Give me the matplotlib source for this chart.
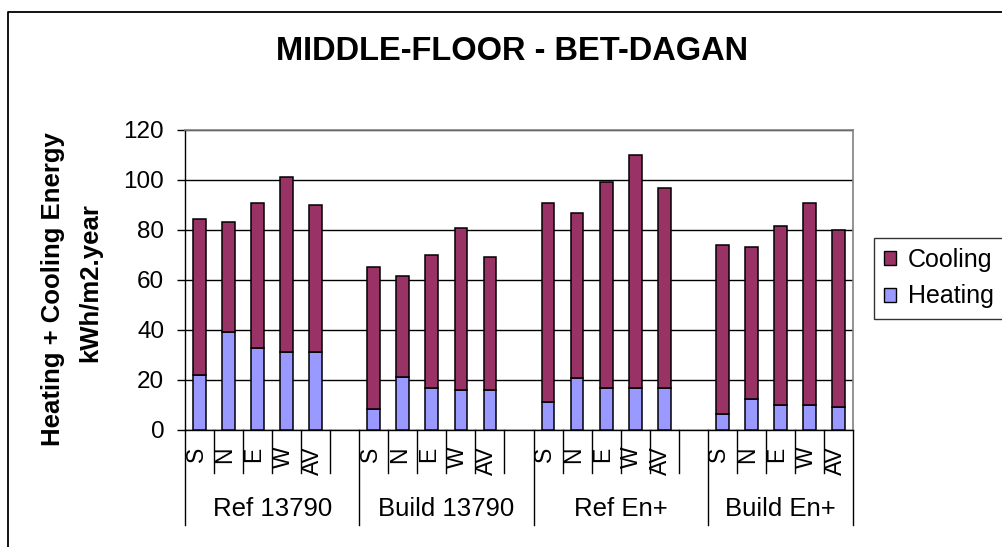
import matplotlib
matplotlib.use('Agg')
import matplotlib.pyplot as plt
from matplotlib.lines import Line2D
from matplotlib.patches import Patch

plt.rcParams['font.family'] = ['Liberation Sans', 'DejaVu Sans']

# ---- data
groups = ['Ref 13790', 'Build 13790', 'Ref En+', 'Build En+']
orients = ['S', 'N', 'E', 'W', 'AV']

heating_ref13790 = [22.0, 39.2, 32.8, 31.3, 31.3]
heating_build13790 = [8.4, 21.3, 16.9, 16.0, 16.0]
heating_refen = [11.3, 20.7, 16.9, 16.9, 16.9]
heating_builden = [6.3, 12.3, 10.0, 10.0, 9.3]

cooling_ref13790 = [62.5, 43.9, 58.0, 70.0, 58.7]
cooling_build13790 = [56.9, 40.3, 53.1, 64.8, 53.3]
cooling_refen = [79.4, 66.2, 82.4, 93.1, 80.0]
cooling_builden = [67.6, 60.9, 71.6, 80.7, 70.7]

heating = [heating_ref13790, heating_build13790, heating_refen, heating_builden]
cooling = [cooling_ref13790, cooling_build13790, cooling_refen, cooling_builden]

HEAT_C = '#9999FF'
COOL_C = '#993366'

W, H = 1003, 547
fig = plt.figure(figsize=(W / 100, H / 100), dpi=100)
ax = fig.add_axes([185 / W, 1 - 430 / H, 668 / W, 300 / H])

slot = 6  # 5 bars + 1 empty slot per group
for g in range(len(groups)):
    pos = [g * slot + i for i in range(len(orients))]
    ax.bar(pos, heating[g], width=0.44, color=HEAT_C, edgecolor='black', lw=1.1, zorder=3)
    ax.bar(pos, cooling[g], width=0.44, bottom=heating[g], color=COOL_C,
           edgecolor='black', lw=1.1, zorder=3)

n_slots = slot * len(groups) - 1
ax.set_xlim(-0.5, n_slots - 0.5)
ax.set_ylim(0, 120)
ax.set_yticks(range(0, 121, 20))
ax.set_xticks([])
ax.yaxis.grid(True, color='black', lw=1)
ax.set_axisbelow(True)
ax.tick_params(axis='y', direction='out', length=6, width=1, pad=9,
               labelsize=17.5, colors='black')
for s in ['top', 'right']:
    ax.spines[s].set_color('#808080')
    ax.spines[s].set_linewidth(1.2)
for s in ['left', 'bottom']:
    ax.spines[s].set_color('black')
    ax.spines[s].set_linewidth(1)

# multi-level category axis
xt = ax.get_xaxis_transform()
for k in range(n_slots + 1):
    big = (k % slot == 0) or (k == n_slots)
    ax.plot([k - 0.5, k - 0.5], [0, -0.317 if big else -0.143], color='black',
            lw=1, transform=xt, clip_on=False)

for g in range(len(groups)):
    for i, o in enumerate(orients):
        ax.text(g * slot + i - 0.12, -0.055, o, rotation=90, ha='center', va='top',
                fontsize=16.5, transform=xt)
    left = g * slot - 0.5
    right = min(left + slot, n_slots - 0.5)
    ax.text((left + right) / 2, -0.263, groups[g], ha='center', va='center',
            fontsize=18.5, transform=xt)

fig.text(511.7 / W, 1 - 51 / H, 'MIDDLE-FLOOR - BET-DAGAN', ha='center', va='center',
         fontsize=23.5, fontweight='bold')
fig.text(53 / W, 1 - 289 / H, 'Heating + Cooling Energy', rotation=90, ha='center',
         va='center', fontsize=18.5, fontweight='bold')
fig.text(90 / W, 1 - 283 / H, 'kWh/m2.year', rotation=90, ha='center',
         va='center', fontsize=18.5, fontweight='bold')

handles = [Patch(facecolor=COOL_C, edgecolor='black', lw=1, label='Cooling'),
           Patch(facecolor=HEAT_C, edgecolor='black', lw=1, label='Heating')]
leg = fig.legend(handles=handles, loc='upper left', bbox_to_anchor=(874 / W, 1 - 238 / H),
                 frameon=True, fancybox=False, edgecolor='black', fontsize=18,
                 handlelength=0.5, handleheight=0.5, handletextpad=0.45,
                 borderpad=0.4, labelspacing=0.5, borderaxespad=0)
leg.get_frame().set_linewidth(1.0)

# chart area border (right and bottom edges fall outside the picture)
fig.add_artist(Line2D([8 / W, 8 / W, 1.0], [0, 1 - 12 / H, 1 - 12 / H], color='black',
                      lw=1.3, transform=fig.transFigure))

fig.savefig('out.png', dpi=100)
